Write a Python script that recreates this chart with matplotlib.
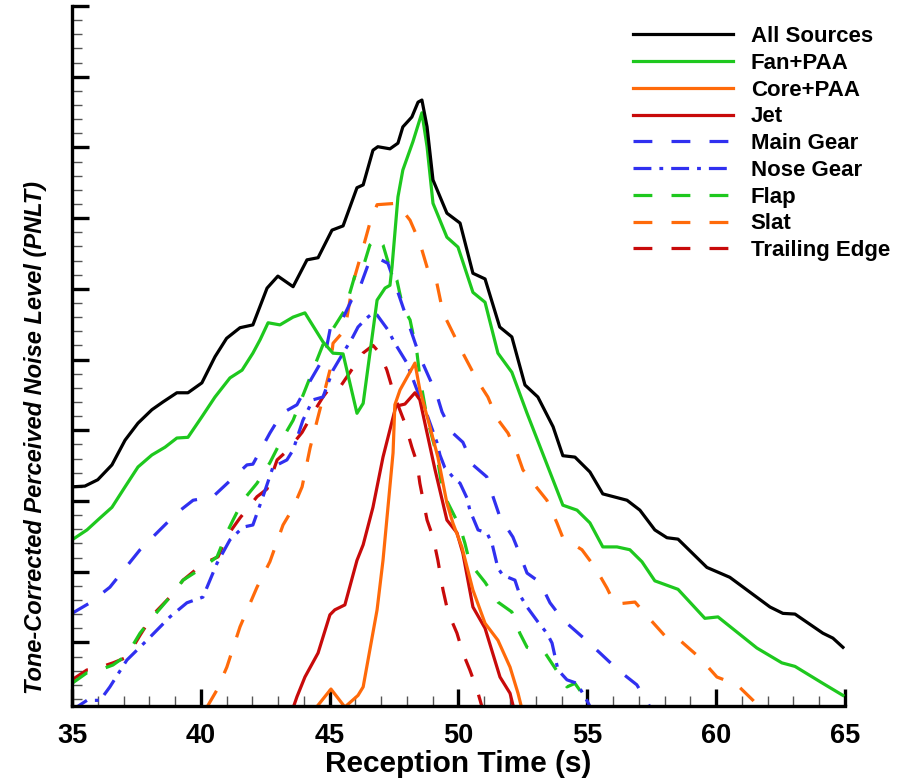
import matplotlib
matplotlib.use("Agg")
import matplotlib.pyplot as plt
from matplotlib.ticker import MultipleLocator, NullFormatter

plt.rcParams['font.family'] = ['Liberation Sans', 'DejaVu Sans']
plt.rcParams['font.weight'] = 'bold'

# ---------------- data (reception time [s], PNLT arbitrary scale) ----------------
t_all = [35.0, 35.5, 36.0, 36.55, 37.06, 37.56, 38.1, 38.53, 39.07, 39.5, 40.04, 40.55, 41.0,
         41.52, 42.02, 42.57, 42.99, 43.58, 44.12, 44.55, 45.09, 45.52, 46.06, 46.3, 46.68,
         46.87, 47.34, 47.65, 47.84, 48.19, 48.43, 48.58, 48.78, 49.01, 49.55, 50.06, 50.56,
         51.03, 51.6, 52.07, 52.58, 53.08, 53.67, 54.05, 54.52, 55.1, 55.6, 56.54, 57.04,
         57.62, 58.09, 58.52, 59.64, 60.53, 62.09, 62.59, 63.06, 64.14, 64.53, 64.92]
v_all = [32.0, 32.1, 33.0, 35.1, 38.6, 41.0, 42.9, 44.0, 45.3, 45.3, 46.7, 50.4, 53.0,
         54.5, 54.9, 60.1, 61.8, 60.3, 64.1, 64.4, 68.3, 68.9, 74.3, 74.7, 79.6,
         80.1, 79.8, 80.6, 82.9, 84.3, 86.4, 86.7, 82.9, 75.4, 70.7, 69.3, 62.2,
         61.4, 54.6, 53.2, 46.4, 44.7, 40.5, 36.4, 36.2, 34.1, 31.0, 30.1, 28.7,
         25.9, 24.8, 24.6, 20.6, 19.2, 15.0, 14.1, 14.0, 11.3, 10.6, 9.3]

t_fan = [35.0, 35.58, 36.09, 36.55, 37.06, 37.56, 38.1, 38.61, 39.07, 39.5, 40.04, 40.55,
         41.13, 41.6, 42.02, 42.3, 42.61, 43.07, 43.58, 44.04, 44.74, 45.13, 45.52, 46.06,
         46.3, 46.84, 47.15, 47.34, 47.42, 47.65, 47.84, 48.23, 48.58, 48.78, 49.01, 49.55,
         49.98, 50.56, 51.03, 51.53, 52.07, 52.66, 54.05, 54.6, 55.1, 55.6, 56.15, 56.65,
         57.12, 57.62, 58.52, 59.56, 60.07, 61.58, 62.55, 63.06, 64.14, 64.92]
v_fan = [24.5, 25.9, 27.6, 29.1, 32.0, 34.8, 36.5, 37.6, 38.9, 39.0, 41.9, 44.7,
         47.4, 48.5, 50.9, 52.8, 55.2, 54.9, 56.0, 56.6, 52.5, 50.9, 50.8, 42.4,
         43.8, 58.4, 60.1, 60.5, 63.1, 73.0, 76.8, 80.8, 84.9, 80.1, 72.1, 67.3,
         65.9, 59.5, 58.1, 50.9, 48.2, 42.4, 29.4, 28.7, 26.9, 23.5, 23.5, 23.1,
         21.4, 18.7, 17.5, 13.4, 13.6, 9.2, 7.1, 6.6, 4.2, 2.5]

t_core = [44.24, 45.05, 45.59, 46.1, 46.3, 46.84, 47.07, 47.46, 47.53, 47.73, 48.31, 48.5,
          48.89, 49.2, 49.55, 49.78, 50.13, 50.56, 51.03, 51.53, 52.0, 52.31, 52.5]
v_core = [-0.3, 3.4, 0.85, 2.5, 3.7, 14.6, 21.6, 36.8, 43.6, 45.7, 49.5, 45.7,
          40.5, 36.2, 29.7, 26.9, 23.5, 17.4, 12.7, 10.3, 6.5, 2.8, 0.0]

t_jet = [43.3, 43.54, 43.73, 44.04, 44.55, 45.01, 45.2, 45.59, 46.06, 46.3, 46.68, 47.07,
         47.57, 47.92, 48.31, 48.5, 48.78, 49.09, 49.55, 49.94, 50.17, 50.56, 51.03, 51.61,
         52.0, 52.19]
v_jet = [-0.5, 0.3, 2.3, 5.1, 8.5, 13.9, 14.6, 15.3, 21.6, 23.8, 29.1, 36.2,
         43.4, 43.7, 45.3, 44.3, 39.6, 34.4, 27.3, 25.5, 22.6, 15.0, 12.0, 5.1,
         2.8, 0.0]

t_main = [35.0, 35.7, 36.47, 37.64, 39.07, 39.7, 40.47, 41.79, 42.02, 42.68, 43.15, 43.73,
          44.04, 44.82, 45.05, 45.52, 45.9, 46.18, 46.56, 46.84, 47.26, 47.53, 48.19, 48.5,
          48.78, 49.16, 49.36, 49.75, 50.17, 50.56, 51.1, 51.34, 51.61, 52.11, 52.31, 52.66,
          53.16, 53.55, 54.05, 54.83, 55.49, 56.19, 56.92, 57.35, 57.55]
v_main = [14.1, 15.6, 17.8, 23.1, 28.3, 30.1, 30.6, 35.1, 35.2, 39.6, 42.4, 43.6,
          45.7, 50.6, 54.9, 55.9, 58.8, 60.3, 64.1, 64.4, 63.6, 60.8, 53.7, 50.4,
          48.1, 45.0, 42.6, 39.7, 38.3, 35.1, 33.4, 30.6, 27.7, 24.9, 23.1, 19.8,
          18.5, 15.6, 13.2, 10.7, 8.5, 6.1, 4.0, 1.4, 0.0]

t_nose = [35.0, 35.58, 36.09, 36.47, 37.13, 37.91, 38.8, 39.46, 40.08, 40.63, 41.13, 41.64,
          42.02, 42.41, 42.8, 43.34, 43.58, 43.96, 44.35, 44.74, 45.13, 45.52, 45.9, 46.1,
          46.45, 46.68, 46.84, 47.26, 47.53, 48.0, 48.39, 48.62, 49.16, 49.28, 49.47, 49.78,
          50.06, 50.33, 50.44, 50.76, 51.1, 51.3, 51.53, 51.72, 52.19, 52.38, 52.66, 53.08,
          53.43, 53.63, 53.86, 54.21, 54.6, 54.98, 55.22]
v_nose = [0.4, 1.8, 1.8, 3.7, 7.5, 10.3, 13.6, 15.6, 16.4, 21.2, 24.5, 26.3,
          26.6, 30.6, 34.8, 35.8, 37.2, 41.4, 44.3, 44.7, 48.5, 50.9, 53.2, 54.6,
          55.9, 56.6, 56.3, 54.2, 52.3, 49.5, 45.7, 43.8, 38.3, 36.5, 34.7, 33.4,
          32.5, 30.4, 28.7, 25.9, 25.5, 24.0, 20.5, 19.5, 18.8, 16.7, 15.0, 12.9,
          11.3, 9.9, 6.1, 4.7, 4.2, 1.8, 0.1]

t_flap = [35.0, 35.58, 35.78, 36.59, 37.13, 37.64, 38.14, 38.8, 39.31, 40.08, 40.63, 41.01,
          41.25, 41.64, 42.18, 42.68, 43.07, 43.58, 44.35, 44.74, 45.59, 46.06, 46.3, 46.56,
          46.84, 47.07, 47.34, 47.61, 47.84, 48.12, 48.39, 48.5, 48.78, 49.16, 49.4, 50.06,
          50.25, 50.44, 51.03, 51.53, 52.07, 52.38, 52.66, 53.36, 53.74, 54.21, 54.52, 54.79,
          55.1]
v_flap = [4.2, 5.7, 5.7, 6.8, 8.2, 11.3, 13.6, 16.4, 18.8, 20.6, 22.1, 25.5,
          27.3, 30.1, 32.5, 35.4, 38.2, 41.4, 48.5, 52.1, 57.0, 62.9, 63.1, 66.2,
          67.3, 66.2, 62.9, 61.2, 57.4, 55.6, 50.9, 47.5, 41.7, 36.5, 31.1, 26.3,
          24.0, 21.2, 18.5, 15.7, 14.3, 11.3, 9.3, 8.5, 6.4, 3.7, 4.2, 2.8,
          0.1]

t_slat = [40.24, 40.63, 41.01, 41.52, 42.18, 42.68, 43.19, 43.58, 43.93, 44.24, 44.62, 45.01,
          45.13, 45.59, 45.9, 46.25, 46.56, 46.84, 47.61, 48.12, 48.5, 48.89, 49.16, 49.4,
          50.17, 50.72, 51.14, 51.49, 51.92, 52.27, 52.5, 52.97, 53.43, 53.82, 54.05, 54.79,
          55.3, 55.76, 56.07, 56.85, 57.35, 58.09, 58.59, 59.37, 60.03, 60.81, 61.43, 61.7]
v_slat = [0.85, 3.3, 6.5, 12.2, 17.8, 21.4, 26.6, 29.0, 32.0, 37.5, 42.9, 48.5,
          52.3, 54.2, 60.8, 65.2, 69.3, 71.9, 72.1, 69.7, 66.5, 61.7, 60.8, 56.6,
          50.9, 47.1, 44.7, 41.7, 39.6, 36.8, 34.4, 32.2, 30.1, 26.9, 24.8, 23.1,
          20.6, 17.7, 15.4, 15.7, 13.6, 10.6, 10.3, 7.8, 5.1, 4.0, 1.8, 0.7]

t_te = [35.0, 35.58, 35.78, 36.59, 37.13, 37.64, 38.14, 38.8, 39.31, 40.08, 40.67, 41.01,
        41.52, 42.18, 42.57, 42.96, 43.38, 43.93, 44.35, 44.74, 45.09, 45.4, 45.79, 46.29,
        46.68, 46.95, 47.22, 47.53, 47.92, 48.19, 48.39, 48.5, 48.78, 49.01, 49.2, 49.4,
        49.59, 49.94, 50.17, 50.44, 50.72, 50.95]
v_te = [4.7, 6.1, 6.1, 7.1, 7.9, 11.0, 13.9, 16.4, 18.8, 21.1, 22.1, 25.0,
        27.6, 30.6, 31.7, 35.8, 37.2, 39.7, 42.4, 44.7, 46.4, 46.1, 48.2, 50.9,
        52.0, 50.9, 48.5, 44.7, 41.0, 37.6, 35.4, 32.5, 27.3, 24.9, 21.6, 17.4,
        14.3, 11.3, 8.5, 6.1, 3.3, 0.4]

labels = ["All Sources", "Fan+PAA", "Core+PAA", "Jet", "Main Gear",
          "Nose Gear", "Flap", "Slat", "Trailing Edge"]

# ---------------- styles ----------------
BLACK = "#000000"
GREEN = "#1ec81e"
ORANGE = "#ff6a0a"
RED = "#c80a0a"
BLUE = "#3030f0"
LW = 2.3
DASH = (5.9, 6.0)
DASHDOT = (5.6, 2.5, 1.2, 2.5)

series = [
    (t_all, v_all, BLACK, None),
    (t_fan, v_fan, GREEN, None),
    (t_core, v_core, ORANGE, None),
    (t_jet, v_jet, RED, None),
    (t_main, v_main, BLUE, DASH),
    (t_nose, v_nose, BLUE, DASHDOT),
    (t_flap, v_flap, GREEN, DASH),
    (t_slat, v_slat, ORANGE, DASH),
    (t_te, v_te, RED, DASH),
]

W, H = 904, 778
fig = plt.figure(figsize=(W / 100, H / 100), dpi=100)
ax = fig.add_axes([72 / W, 1 - 706 / H, (845 - 72) / W, (706 - 6) / H])

handles = [None] * len(series)
for i in reversed(range(len(series))):
    t, v, c, d = series[i]
    if d is None:
        ln, = ax.plot(t, v, color=c, lw=LW, label=labels[i])
    else:
        ln, = ax.plot(t, v, color=c, lw=LW, label=labels[i], dashes=d)
    handles[i] = ln

ax.set_xlim(35, 65)
ax.set_ylim(1.0, 100.0)

ax.xaxis.set_major_locator(MultipleLocator(5))
ax.xaxis.set_minor_locator(MultipleLocator(1))
ax.yaxis.set_major_locator(MultipleLocator(10))
ax.yaxis.set_minor_locator(MultipleLocator(2))
ax.yaxis.set_major_formatter(NullFormatter())

for s in ['top', 'right']:
    ax.spines[s].set_visible(False)
for s in ['left', 'bottom']:
    ax.spines[s].set_linewidth(2.4)

ax.tick_params(which='major', direction='in', length=12, width=2.4, labelsize=19.5, pad=12)
ax.tick_params(which='minor', direction='in', length=7, width=1.0, color='#555555')
for lab in ax.get_xticklabels():
    lab.set_fontweight('bold')

ax.set_xlabel("Reception Time (s)", fontsize=21.5, fontweight='bold', labelpad=1)
ax.set_ylabel("Tone-Corrected Perceived Noise Level (PNLT)", fontsize=17,
              fontweight='bold', style='italic')
ax.yaxis.set_label_coords(-25 / 773, (706 - 438) / 700)

leg = fig.legend(handles=handles, labels=labels, loc='upper left',
                 bbox_to_anchor=(633 / W, 1 - 26 / H), frameon=False,
                 fontsize=16, handlelength=4.5, handletextpad=0.8,
                 labelspacing=0.26, borderpad=0, borderaxespad=0)
for txt in leg.get_texts():
    txt.set_fontweight('bold')

fig.savefig("out.png", dpi=100)
